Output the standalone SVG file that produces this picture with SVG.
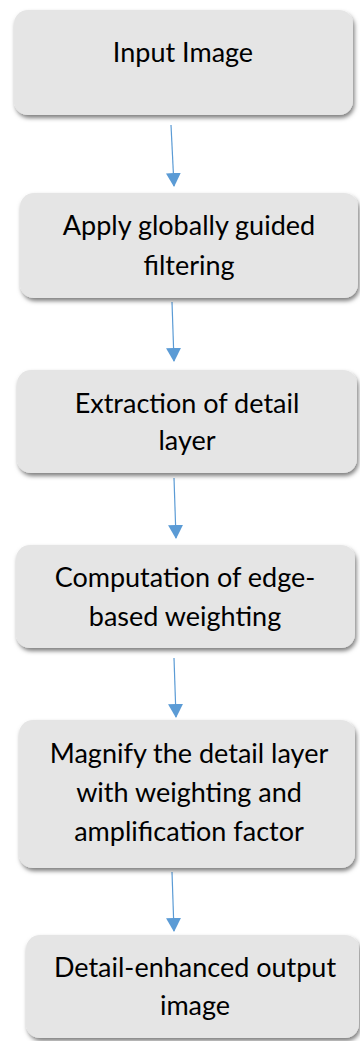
<svg xmlns="http://www.w3.org/2000/svg" width="360" height="1041" viewBox="0 0 360 1041">
  <style>
    .box { fill: #e5e5e5; filter: url(#shadow); }
    .label { font-family: Lato, "Liberation Sans", sans-serif; font-size: 27px; fill: #000; text-anchor: middle; }
    .conn { stroke: #5b9bd5; stroke-width: 1.2; fill: none; marker-end: url(#head); }
  </style>
  <defs>
    <filter id="shadow" x="-10%" y="-10%" width="120%" height="130%">
      <feDropShadow dx="1.5" dy="3" stdDeviation="2" flood-color="#000" flood-opacity="0.5"/>
    </filter>
    <marker id="head" viewBox="0 0 14 15" refX="13" refY="7.5" markerWidth="14" markerHeight="15" markerUnits="userSpaceOnUse" orient="auto">
      <path d="M0,0 L14,7.5 L0,15 Z" fill="#5b9bd5"/>
    </marker>
  </defs>
  <rect width="360" height="1041" fill="#fff"/>

  <g id="connectors">
    <path class="conn" d="M171,125 L174,186"/>
    <path class="conn" d="M172,302 L174,361"/>
    <path class="conn" d="M174,478 L176,538"/>
    <path class="conn" d="M174,658 L176,717"/>
    <path class="conn" d="M172,872 L174,931"/>
  </g>

  <g id="input-image">
    <rect class="box" x="14" y="10" width="339" height="105" rx="14"/>
    <text class="label" x="183" y="62">Input Image</text>
  </g>
  <g id="guided-filtering">
    <rect class="box" x="20" y="193" width="338" height="105" rx="14"/>
    <text class="label" x="189" y="235">Apply globally guided</text>
    <text class="label" x="189" y="275">filtering</text>
  </g>
  <g id="detail-extraction">
    <rect class="box" x="17" y="370" width="340" height="103" rx="14"/>
    <text class="label" x="187" y="413">Extraction of detail</text>
    <text class="label" x="187" y="450">layer</text>
  </g>
  <g id="edge-weighting">
    <rect class="box" x="16" y="545" width="339" height="103" rx="14"/>
    <text class="label" x="185" y="587">Computation of edge-</text>
    <text class="label" x="185" y="626">based weighting</text>
  </g>
  <g id="magnify-detail">
    <rect class="box" x="19" y="720" width="336" height="148" rx="14"/>
    <text class="label" x="189" y="763">Magnify the detail layer</text>
    <text class="label" x="189" y="802">with weighting and</text>
    <text class="label" x="189" y="841">amplification factor</text>
  </g>
  <g id="enhanced-output">
    <rect class="box" x="26" y="935" width="333" height="103" rx="14"/>
    <text class="label" x="195" y="977">Detail-enhanced output</text>
    <text class="label" x="195" y="1015">image</text>
  </g>
</svg>
